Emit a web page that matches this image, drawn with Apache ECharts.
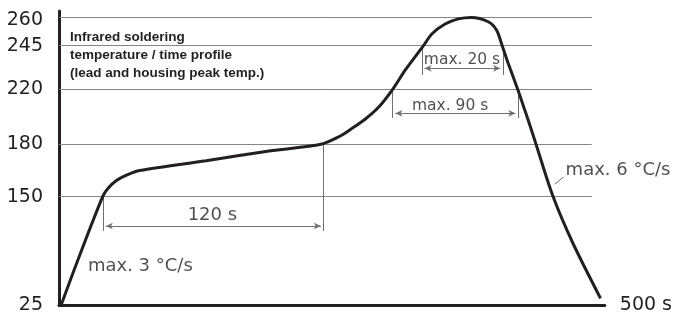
<!DOCTYPE html>
<html>
<head>
<meta charset="utf-8">
<script src="https://cdn.jsdelivr.net/npm/echarts@6/dist/echarts.min.js"></script>
<style>
  html, body { margin: 0; padding: 0; background: #fff; }
  #profile-chart { width: 675px; height: 316px; }
</style>
</head>
<body>
<div id="profile-chart"></div>
<script>
// temperature levels marked on the y axis (°C)
var tempLevels = [25, 150, 180, 220, 245, 260];
// the drawing is a sketch, the y axis is not linear: height of each level above the time axis
var levelHeights = [0, 108.4, 160.7, 215.7, 259.3, 287.6];

// profile curve (time on the drawn scale in s, temperature in °C)
var profileTime = [2, 17.3, 40, 45, 52.6, 61.8, 73.9, 134.8, 195.5, 240,
  256.4, 268.5, 280.7, 292.9, 305.7, 317.3, 333.9, 341.5, 353.7, 365.9, 377.5,
  393.2, 400.8, 406, 411.5, 420.2, 426.7, 432.8, 437, 452.6, 470.8, 496.1];
var profileTemp = [25, 76.9, 150, 154.8, 159.2, 162.3, 165, 170.6, 176.4, 180,
  185.5, 191.6, 198.4, 207.1, 220, 231.1, 245, 251.2, 256.5, 259.2, 260,
  257.7, 253.3, 245, 234.9, 220, 204.9, 190.4, 180, 150, 96.2, 32.7];

// dimension brackets
var bracketNames = ["120 s", "max. 90 s", "max. 20 s"];
var bracketStart = [40.4, 305.7, 332.4];
var bracketEnd = [242.4, 420.6, 406.7];
var bracketStartTop = [150, 220, 245];
var bracketEndTop = [180, 220, 245];
var bracketBottom = [110.4, 199.1, 228.2];
var bracketArrow = [116.1, 202.5, 232.0];
var bracketTextTime = [140.5, 358.3, 369.2];
var bracketTextTemp = [128.8, 208.0, 237.0];

// ramp rate notes
var rateNames = ["max. 3 °C/s", "max. 6 °C/s"];
var rateTime = [26.5, 464.1];
var rateTemp = [69.2, 165.3];
var leaderTime = [454.1, 462.3];
var leaderTemp = [157.1, 161.3];

var gridEndTime = 488;
var textColor = "#231f20";
var thinColor = "#707070";

function toHeight(temp) {
  for (var i = 1; i < tempLevels.length; i++) {
    if (temp <= tempLevels[i]) {
      var k = (temp - tempLevels[i - 1]) / (tempLevels[i] - tempLevels[i - 1]);
      return levelHeights[i - 1] + k * (levelHeights[i] - levelHeights[i - 1]);
    }
  }
  return levelHeights[levelHeights.length - 1];
}

var chart = echarts.init(document.getElementById("profile-chart"));

var gridLines = tempLevels.slice(1).map(function (t) {
  return [{ coord: [0, toHeight(t)] }, { coord: [gridEndTime, toHeight(t)] }];
});

var bracketLines = [];
bracketNames.forEach(function (name, i) {
  var s = bracketStart[i], e = bracketEnd[i];
  bracketLines.push([{ coord: [s, toHeight(bracketStartTop[i])] }, { coord: [s, toHeight(bracketBottom[i])] }]);
  bracketLines.push([{ coord: [e, toHeight(bracketEndTop[i])] }, { coord: [e, toHeight(bracketBottom[i])] }]);
  var y = toHeight(bracketArrow[i]);
  bracketLines.push([
    { coord: [s + 2.5, y], symbol: "arrow", symbolSize: [5, 7] },
    { coord: [e - 2.5, y], symbol: "arrow", symbolSize: [5, 7] }
  ]);
});
bracketLines.push([
  { coord: [leaderTime[0], toHeight(leaderTemp[0])] },
  { coord: [leaderTime[1], toHeight(leaderTemp[1])] }
]);

var notes = [];
bracketNames.forEach(function (name, i) {
  notes.push({
    value: [bracketTextTime[i], toHeight(bracketTextTemp[i])],
    name: name,
    label: { align: "center", fontSize: i === 0 ? 18 : 15.5 }
  });
});
rateNames.forEach(function (name, i) {
  notes.push({
    value: [rateTime[i], toHeight(rateTemp[i])],
    name: name,
    label: { align: "left", fontSize: 18 }
  });
});

var option = {
  animation: false,
  backgroundColor: "#fff",
  title: {
    text: "Infrared soldering\ntemperature / time profile\n(lead and housing peak temp.)",
    left: 70,
    top: 28,
    padding: 0,
    textStyle: {
      fontFamily: "Liberation Sans",
      fontSize: 13.5,
      fontWeight: "bold",
      lineHeight: 18.3,
      color: textColor
    }
  },
  grid: { left: 59, right: 68, top: 11, bottom: 11 },
  xAxis: {
    type: "value",
    min: 0,
    max: 500,
    name: "500 s",
    nameLocation: "end",
    nameGap: 15,
    nameTextStyle: { fontFamily: "DejaVu Sans", fontSize: 19, color: textColor, verticalAlign: "middle" },
    axisLine: { lineStyle: { color: textColor, width: 3 } },
    axisTick: { show: false },
    axisLabel: { show: false },
    splitLine: { show: false }
  },
  yAxis: {
    type: "value",
    min: 0,
    max: 294,
    axisLine: { lineStyle: { color: textColor, width: 3 } },
    axisTick: { show: false },
    axisLabel: {
      customValues: levelHeights,
      margin: 16,
      fontFamily: "DejaVu Sans",
      fontSize: 19,
      color: textColor,
      formatter: function (v) {
        var i = levelHeights.indexOf(v);
        if (i < 0) return "";
        // top label sits a little under its line, as in the drawing
        return i === tempLevels.length - 1 ? "{top|" + tempLevels[i] + "}" : String(tempLevels[i]);
      },
      rich: {
        top: { fontFamily: "DejaVu Sans", fontSize: 19, color: textColor, padding: [6, 0, 0, 0] }
      }
    },
    splitLine: { show: false }
  },
  series: [
    {
      name: "grid",
      type: "line",
      data: [],
      silent: true,
      markLine: {
        silent: true,
        symbol: "none",
        label: { show: false },
        lineStyle: { color: "#858585", width: 1, type: "solid" },
        emphasis: { disabled: true },
        data: gridLines
      }
    },
    {
      name: "brackets",
      type: "line",
      data: [],
      silent: true,
      markLine: {
        silent: true,
        symbol: "none",
        label: { show: false },
        lineStyle: { color: thinColor, width: 1, type: "solid" },
        emphasis: { disabled: true },
        data: bracketLines
      }
    },
    {
      name: "profile",
      type: "line",
      smooth: 0.3,
      symbol: "none",
      silent: true,
      lineStyle: { color: textColor, width: 3 },
      data: profileTime.map(function (t, i) { return [t, toHeight(profileTemp[i])]; }),
      z: 5
    },
    {
      name: "notes",
      type: "scatter",
      symbolSize: 0,
      silent: true,
      label: {
        show: true,
        position: [0, 0],
        verticalAlign: "middle",
        fontFamily: "DejaVu Sans",
        color: textColor,
        formatter: "{b}"
      },
      data: notes,
      z: 6
    }
  ]
};

chart.setOption(option);
</script>
</body>
</html>
